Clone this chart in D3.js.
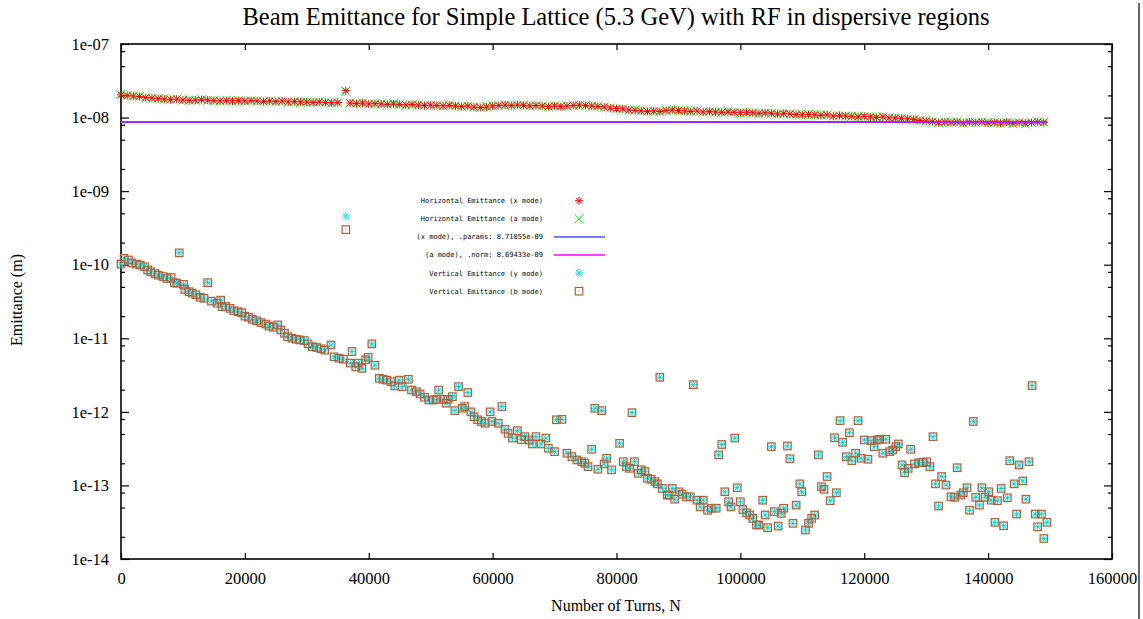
<!DOCTYPE html>
<html><head><meta charset="utf-8">
<script src="https://cdn.jsdelivr.net/npm/d3@7"></script>
<style>body{margin:0;background:#fff}svg{display:block}</style>
</head><body>
<svg id="chart" width="1143" height="619"></svg>
<script>
// ---------- text ----------
const titleText = "Beam Emittance for Simple Lattice (5.3 GeV) with RF in dispersive regions";
const xLabelText = "Number of Turns, N";
const yLabelText = "Emittance (m)";
const legendLabels = [
  "Horizontal Emittance (x mode)",
  "Horizontal Emittance (a mode)",
  "(x mode), .params: 8.71855e-09",
  "(a mode), .norm: 8.69433e-09",
  "Vertical Emittance (y mode)",
  "Vertical Emittance (b mode)"
];
// ---------- ticks ----------
const xTickValues = [0, 20000, 40000, 60000, 80000, 100000, 120000, 140000, 160000];
const yTickValues = [1e-14, 1e-13, 1e-12, 1e-11, 1e-10, 1e-9, 1e-8, 1e-7];
const yTickLabels = ["1e-14", "1e-13", "1e-12", "1e-11", "1e-10", "1e-09", "1e-08", "1e-07"];
const yMinorMultipliers = [2, 5, 8];
// ---------- fitted lines ----------
const fitXmode = 8.71855e-09;
const fitAmode = 8.69433e-09;
const fitRange = [0, 149500];
// ---------- horizontal emittance (values in units of 1e-8 m) ----------
const horizTurns = [0,1000,2000,3000,4000,5000,6000,7000,8000,9000,10000,11000,12000,13000,14000,15000,16000,17000,18000,19000,20000,21000,22000,23000,24000,25000,26000,27000,28000,29000,30000,31000,32000,33000,34000,35000,36300,37000,38000,39000,40000,41000,42000,43000,44000,45000,46000,47000,48000,49000,50000,51000,52000,53000,54000,55000,56000,57000,58000,59000,60000,61000,62000,63000,64000,65000,66000,67000,68000,69000,70000,71000,72000,73000,74000,75000,76000,77000,78000,79000,80000,81000,82000,83000,84000,85000,86000,87000,88000,89000,90000,91000,92000,93000,94000,95000,96000,97000,98000,99000,100000,101000,102000,103000,104000,105000,106000,107000,108000,109000,110000,111000,112000,113000,114000,115000,116000,117000,118000,119000,120000,121000,122000,123000,124000,125000,126000,127000,128000,129000,130000,131000,132000,133000,134000,135000,136000,137000,138000,139000,140000,141000,142000,143000,144000,145000,146000,147000,148000,149000];
const horizXmode = [2.03,1.99,1.96,1.93,1.87,1.84,1.81,1.78,1.75,1.78,1.73,1.70,1.73,1.75,1.73,1.70,1.68,1.70,1.68,1.70,1.68,1.70,1.68,1.65,1.68,1.65,1.68,1.63,1.65,1.63,1.63,1.60,1.63,1.60,1.58,1.60,2.32,1.58,1.55,1.58,1.53,1.55,1.53,1.51,1.53,1.51,1.48,1.51,1.48,1.46,1.48,1.46,1.44,1.46,1.44,1.41,1.44,1.39,1.37,1.39,1.44,1.46,1.48,1.46,1.48,1.46,1.44,1.46,1.44,1.41,1.44,1.41,1.44,1.46,1.48,1.46,1.44,1.41,1.39,1.35,1.33,1.31,1.27,1.25,1.23,1.21,1.23,1.21,1.25,1.27,1.25,1.23,1.21,1.23,1.19,1.21,1.19,1.18,1.19,1.18,1.16,1.18,1.16,1.14,1.16,1.14,1.12,1.14,1.12,1.10,1.09,1.10,1.09,1.07,1.09,1.05,1.07,1.05,1.04,1.02,1.04,1.02,1.00,1.02,0.99,0.99,0.975,0.96,0.945,0.915,0.90,0.885,0.855,0.87,0.855,0.87,0.84,0.87,0.855,0.87,0.84,0.855,0.84,0.87,0.83,0.855,0.84,0.855,0.87,0.855];
const horizAmode = [2.06,1.99,1.96,1.95,1.87,1.82,1.81,1.78,1.77,1.78,1.73,1.72,1.73,1.75,1.71,1.70,1.68,1.72,1.68,1.70,1.66,1.70,1.68,1.67,1.68,1.65,1.66,1.63,1.65,1.61,1.63,1.60,1.63,1.62,1.58,1.60,2.28,1.58,1.57,1.58,1.53,1.53,1.53,1.51,1.55,1.51,1.48,1.49,1.48,1.46,1.46,1.46,1.44,1.48,1.44,1.41,1.42,1.39,1.37,1.41,1.44,1.46,1.46,1.46,1.48,1.48,1.44,1.46,1.42,1.41,1.44,1.43,1.44,1.46,1.46,1.46,1.44,1.43,1.39,1.35,1.31,1.31,1.27,1.27,1.23,1.21,1.21,1.21,1.25,1.25,1.25,1.23,1.23,1.23,1.19,1.19,1.19,1.18,1.21,1.18,1.16,1.16,1.16,1.14,1.14,1.14,1.12,1.12,1.12,1.10,1.11,1.10,1.09,1.09,1.09,1.05,1.05,1.05,1.04,1.04,1.04,1.02,1.02,1.02,0.99,0.97,0.975,0.96,0.93,0.915,0.90,0.87,0.855,0.87,0.87,0.87,0.84,0.85,0.855,0.87,0.86,0.855,0.84,0.85,0.83,0.855,0.82,0.855,0.87,0.87];
const horizUnit = 1e-8;
// ---------- vertical emittance (y mode and b mode coincide) ----------
const vertTurns = [0,500,1200,1700,2500,3100,3800,4300,4800,5500,6000,6800,7400,8100,8600,9000,9400,10100,10300,11000,11500,12100,12800,13400,14000,14600,15500,16100,16300,16900,17600,18200,18900,19500,20000,20600,21200,21900,22600,23400,23900,24600,25300,25800,26400,26900,27600,28300,28900,29600,30200,30900,31600,32300,32900,33900,34400,35200,35900,37000,37300,37900,38300,38900,39500,39900,40500,41000,41700,42300,42900,43600,44200,44900,45400,46400,46900,47700,48300,49000,49700,50400,51000,51300,52000,52500,52800,53500,53900,54500,55100,55500,56000,56500,57000,57600,58200,58800,59600,59900,60900,61500,62000,62500,63200,64000,64600,65200,65900,66400,67000,67800,68600,69000,70000,70300,71200,72000,72800,73600,74400,74900,75400,76000,76500,77000,77600,78000,78400,79200,80500,81100,81600,82100,82500,82900,83500,84000,84600,85000,85600,86200,86600,87000,87400,88200,88500,89000,89400,90100,90600,91300,91900,92400,93000,93500,94000,94700,95300,96100,96500,97000,97500,98100,98500,99100,99500,100000,100400,101000,101500,102000,102600,103000,103600,104000,104400,105000,105500,106100,106600,107000,107600,108000,108500,109000,109600,109900,110500,111000,111500,112000,112600,113100,113500,114000,114500,115200,115500,116100,116500,117100,117600,118000,118600,119000,119500,120000,120600,121100,121600,122100,122500,123000,123500,124100,124600,125100,125500,126100,126500,127100,127500,128100,128800,129500,130100,130600,131100,131500,132000,132500,133200,134000,134600,135000,135600,136000,136600,137000,137600,138000,138600,139000,139500,140100,140500,141100,141500,142100,142500,143100,143500,144200,144600,145000,145600,146100,146600,147100,147600,148000,148600,149000,149500];
const vertValues = [1.02e-10,1.22e-10,1.16e-10,1.06e-10,1.02e-10,9.9e-11,9.4e-11,8.5e-11,8.0e-11,7.6e-11,7.2e-11,6.9e-11,6.5e-11,6.7e-11,5.7e-11,5.6e-11,1.45e-10,5.4e-11,4.6e-11,4.3e-11,4.1e-11,3.9e-11,3.6e-11,3.5e-11,5.7e-11,3.2e-11,3.0e-11,3.3e-11,2.7e-11,2.7e-11,2.55e-11,2.37e-11,2.3e-11,2.23e-11,2.0e-11,1.93e-11,1.81e-11,1.73e-11,1.63e-11,1.56e-11,1.46e-11,1.41e-11,1.52e-11,1.3e-11,1.17e-11,1.05e-11,1.0e-11,9.7e-12,9.5e-12,9.3e-12,8.4e-12,7.7e-12,7.5e-12,7.2e-12,6.9e-12,8.1e-12,5.6e-12,5.35e-12,5.2e-12,4.6e-12,6.6e-12,4.1e-12,4.6e-12,3.9e-12,5.1e-12,5.5e-12,8.4e-12,4.3e-12,2.86e-12,2.77e-12,2.7e-12,2.57e-12,2.25e-12,2.7e-12,2.2e-12,2.77e-12,1.98e-12,1.88e-12,1.75e-12,1.58e-12,1.45e-12,1.45e-12,1.48e-12,1.98e-12,1.48e-12,1.31e-12,1.48e-12,1.61e-12,1.04e-12,2.2e-12,1.12e-12,1.18e-12,1.83e-12,1.0e-12,8.6e-13,7.8e-13,7.4e-13,7.0e-13,1.0e-12,7.4e-13,7.0e-13,1.18e-12,5.8e-13,5.1e-13,4.4e-13,5.55e-13,4.2e-13,4.6e-13,4.15e-13,3.66e-13,4.6e-13,3.66e-13,4.4e-13,3.2e-13,2.88e-13,7.8e-13,7.9e-13,2.74e-13,2.46e-13,2.22e-13,2.1e-13,2.0e-13,1.8e-13,3.1e-13,1.12e-12,1.66e-13,1.04e-12,1.96e-13,2.34e-13,1.63e-13,3.74e-13,2.1e-13,1.8e-13,1.71e-13,9.75e-13,2.1e-13,1.46e-13,1.63e-13,1.54e-13,1.25e-13,1.21e-13,1.13e-13,1.05e-13,2.95e-12,9.1e-14,7.4e-14,7.4e-14,9.1e-14,6.5e-14,8.2e-14,7.6e-14,7.0e-14,7.0e-14,2.34e-12,6.3e-14,5.1e-14,6.3e-14,4.6e-14,4.9e-14,4.9e-14,2.6e-13,3.6e-13,8.2e-14,6.0e-14,5.1e-14,4.4e-13,9.3e-14,6.0e-14,4.7e-14,4.25e-14,3.96e-14,3.57e-14,2.9e-14,2.9e-14,6.3e-14,3.96e-14,2.66e-14,3.37e-13,4.4e-14,2.8e-14,4.17e-14,4.9e-14,3.44e-13,2.31e-13,3.05e-14,5.4e-14,1.05e-13,8.2e-14,2.48e-14,3.05e-14,3.57e-14,3.96e-14,2.6e-13,9.6e-14,8.85e-14,1.32e-13,6.2e-14,4.45e-13,7.96e-14,7.6e-13,3.86e-13,2.46e-13,5.2e-13,2.17e-13,2.74e-13,7.6e-13,2.34e-13,4.15e-13,2.27e-13,4.06e-13,3.37e-13,4.15e-13,4.24e-13,2.74e-13,4.24e-13,2.88e-13,3.03e-13,3.37e-13,3.66e-13,1.9e-13,1.49e-13,1.71e-13,3.1e-13,1.96e-13,2.04e-13,2.04e-13,2.1e-13,1.8e-13,4.6e-13,1.05e-13,5.25e-14,1.32e-13,1.01e-13,7.0e-14,6.9e-14,1.74e-13,7.4e-14,7.96e-14,9.3e-14,4.6e-14,7.4e-13,6.9e-14,5.4e-14,9.3e-14,6.9e-14,8.2e-14,6.3e-14,3.15e-14,6.2e-14,9.1e-14,2.83e-14,6.8e-14,2.17e-13,1.05e-13,4.08e-14,1.9e-13,1.15e-13,6.5e-14,2.1e-13,2.27e-12,4.08e-14,2.74e-14,4.08e-14,1.9e-14,3.15e-14];
// single turn where the two vertical modes differ
const vertYmodeExtraTurn = [36300];
const vertYmodeExtraValue = [4.6e-10];
const vertBmodeExtraTurn = [36300];
const vertBmodeExtraValue = [3.0e-10];

// ---------- colours ----------
const colXmode = "#ff0000", colAmode = "#00ee00", colFitX = "#4a4aff", colFitA = "#ff00ff",
      colYmode = "#00e8f0", colBmode = "#b06038";

const W = 1143, H = 619;
const M = {left: 121, right: 1112, top: 44, bottom: 559};
const svg = d3.select("#chart");
svg.append("rect").attr("width", W).attr("height", H).attr("fill", "#fff");

const x = d3.scaleLinear().domain([0, 160000]).range([M.left, M.right]);
const y = d3.scaleLog().domain([1e-14, 1e-7]).range([M.bottom, M.top]);

const serif = "'Liberation Serif','Times New Roman',serif";
const mono = "'DejaVu Sans Mono','Liberation Mono',monospace";

// title
svg.append("text").attr("x", 616).attr("y", 25).attr("text-anchor", "middle")
  .attr("font-family", serif).attr("font-size", 24.5).attr("fill", "#000").text(titleText);

// axes
const minorVals = [];
yTickValues.slice(0, -1).forEach(d => yMinorMultipliers.forEach(m => minorVals.push(d * m)));

function styleAxis(g) {
  g.select(".domain").remove();
  g.selectAll("line").attr("stroke", "#000").attr("stroke-width", 1.2);
  g.selectAll("text").attr("font-family", serif).attr("font-size", 16.5).attr("fill", "#000");
}
svg.append("g").attr("transform", `translate(0,${M.bottom})`)
  .call(d3.axisBottom(x).tickValues(xTickValues).tickSize(-6).tickPadding(13).tickFormat(d3.format("d")))
  .call(styleAxis);
svg.append("g").attr("transform", `translate(0,${M.top})`)
  .call(d3.axisTop(x).tickValues(xTickValues).tickSize(-6).tickFormat(""))
  .call(styleAxis);
svg.append("g").attr("transform", `translate(${M.left},0)`)
  .call(d3.axisLeft(y).tickValues(yTickValues).tickSize(-8).tickPadding(12).tickFormat((d, i) => yTickLabels[i]))
  .call(styleAxis);
svg.append("g").attr("transform", `translate(${M.left},0)`)
  .call(d3.axisLeft(y).tickValues(minorVals).tickSize(-4).tickFormat(""))
  .call(styleAxis);
svg.append("g").attr("transform", `translate(${M.right},0)`)
  .call(d3.axisRight(y).tickValues(yTickValues).tickSize(-8).tickFormat(""))
  .call(styleAxis);
svg.append("g").attr("transform", `translate(${M.right},0)`)
  .call(d3.axisRight(y).tickValues(minorVals).tickSize(-4).tickFormat(""))
  .call(styleAxis);

// frame
svg.append("rect").attr("x", M.left).attr("y", M.top)
  .attr("width", M.right - M.left).attr("height", M.bottom - M.top)
  .attr("fill", "none").attr("stroke", "#000").attr("stroke-width", 1.6);

// axis labels
svg.append("text").attr("x", 616).attr("y", 611).attr("text-anchor", "middle")
  .attr("font-family", serif).attr("font-size", 16).text(xLabelText);
svg.append("text").attr("transform", "translate(22,300) rotate(-90)").attr("text-anchor", "middle")
  .attr("font-family", serif).attr("font-size", 16).text(yLabelText);

// right border line of the picture
svg.append("line").attr("x1", 1139).attr("x2", 1139).attr("y1", 3).attr("y2", H)
  .attr("stroke", "#333").attr("stroke-width", 1.5);

// marker shapes
const shapeAsterisk = "M-4,0H4M0,-4V4M-3,-3L3,3M-3,3L3,-3";
const shapeCross = "M-4.5,-4.5L4.5,4.5M-4.5,4.5L4.5,-4.5";
function drawMarkers(g, pts, kind, col) {
  if (kind === "square") {
    const s = g.selectAll(null).data(pts).enter().append("g")
      .attr("transform", d => `translate(${x(d[0])},${y(d[1])})`);
    s.append("rect").attr("x", -3.75).attr("y", -3.75).attr("width", 7.5).attr("height", 7.5)
      .attr("fill", "none").attr("stroke", col).attr("stroke-width", 1.2);
    s.append("rect").attr("x", -0.5).attr("y", -0.5).attr("width", 1).attr("height", 1).attr("fill", col);
  } else {
    g.selectAll(null).data(pts).enter().append("path")
      .attr("transform", d => `translate(${x(d[0])},${y(d[1])})`)
      .attr("d", kind === "asterisk" ? shapeAsterisk : shapeCross)
      .attr("fill", "none").attr("stroke", col).attr("stroke-width", 1);
  }
}

const plot = svg.append("g");
const aPts = horizTurns.map((t, i) => [t, horizAmode[i] * horizUnit]);
const xPts = horizTurns.map((t, i) => [t, horizXmode[i] * horizUnit]);
drawMarkers(plot.append("g"), aPts, "cross", colAmode);
drawMarkers(plot.append("g"), xPts, "asterisk", colXmode);

// fitted lines
plot.append("line").attr("x1", x(fitRange[0])).attr("x2", x(fitRange[1]))
  .attr("y1", y(fitXmode)).attr("y2", y(fitXmode)).attr("stroke", colFitX).attr("stroke-width", 2);
plot.append("line").attr("x1", x(fitRange[0])).attr("x2", x(fitRange[1]))
  .attr("y1", y(fitAmode)).attr("y2", y(fitAmode)).attr("stroke", colFitA).attr("stroke-width", 2).attr("opacity", 0.55);

const yPts = vertTurns.map((t, i) => [t, vertValues[i]])
  .concat(vertYmodeExtraTurn.map((t, i) => [t, vertYmodeExtraValue[i]]));
const bPts = vertTurns.map((t, i) => [t, vertValues[i]])
  .concat(vertBmodeExtraTurn.map((t, i) => [t, vertBmodeExtraValue[i]]));
drawMarkers(plot.append("g"), yPts, "asterisk", colYmode);
drawMarkers(plot.append("g"), bPts, "square", colBmode);

// legend
const legTextX = 543, legSymX = 579, legY0 = 200.7, legDy = 18.1;
const legKinds = ["asterisk", "cross", "line", "line", "asterisk", "square"];
const legCols = [colXmode, colAmode, colFitX, colFitA, colYmode, colBmode];
const leg = svg.append("g");
legendLabels.forEach((lab, i) => {
  const yy = legY0 + i * legDy;
  leg.append("text").attr("x", legTextX).attr("y", yy).attr("dy", "0.35em").attr("text-anchor", "end")
    .attr("font-family", mono).attr("font-size", 7).attr("fill", "#000").text(lab);
  const g = leg.append("g").attr("transform", `translate(${legSymX},${yy})`);
  if (legKinds[i] === "line") {
    g.append("line").attr("x1", -25).attr("x2", 26).attr("stroke", legCols[i]).attr("stroke-width", 1.5);
  } else if (legKinds[i] === "square") {
    g.append("rect").attr("x", -3.75).attr("y", -3.75).attr("width", 7.5).attr("height", 7.5)
      .attr("fill", "none").attr("stroke", legCols[i]).attr("stroke-width", 1.2);
    g.append("rect").attr("x", -0.5).attr("y", -0.5).attr("width", 1).attr("height", 1).attr("fill", legCols[i]);
  } else {
    g.append("path").attr("d", legKinds[i] === "asterisk" ? shapeAsterisk : shapeCross)
      .attr("fill", "none").attr("stroke", legCols[i]).attr("stroke-width", 1);
  }
});
</script>
</body></html>
